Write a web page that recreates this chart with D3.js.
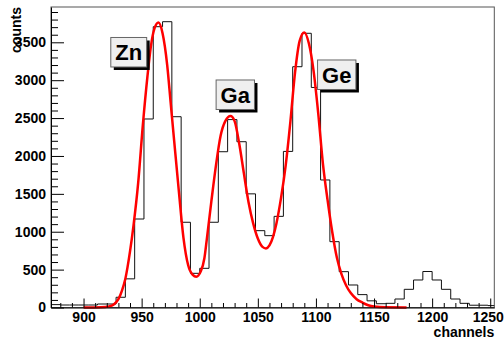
<!DOCTYPE html>
<html>
<head>
<meta charset="utf-8">
<script src="https://cdn.jsdelivr.net/npm/d3@7"></script>
<style>
  body { margin: 0; background: #fff; }
  svg text { font-family: "Liberation Sans", Arial, sans-serif; font-weight: bold; fill: #000; }
</style>
</head>
<body>
<div id="chart"></div>
<script>
// Histogram bins (lower edge, 8 channels wide) and counts
const binLow = [872, 880, 888, 896, 904, 912, 920, 928, 936, 944, 952, 960,
                968, 976, 984, 992, 1000, 1008, 1016, 1024, 1032, 1040, 1048, 1056,
                1064, 1072, 1080, 1088, 1096, 1104, 1112, 1120, 1128, 1136, 1144, 1152,
                1160, 1168, 1176, 1184, 1192, 1200, 1208, 1216, 1224, 1232, 1240, 1248];
const binCounts = [38, 33, 33, 33, 33, 46, 46, 135, 378, 1168, 2488, 3706,
                   3772, 2518, 1125, 451, 517, 1125, 2056, 2480, 2188, 1500, 1014, 948,
                   1203, 2060, 3178, 3619, 2904, 1683, 869, 473, 297, 170, 88, 50,
                   55, 112, 240, 363, 475, 363, 240, 112, 55, 30, 30, 25];
const binWidth = 8;

// Fit curve, sampled from the red line
const fitChannel = [900, 915, 922, 926, 930, 933, 936, 940, 943, 947, 951, 955, 958, 961, 964.5,
                    968, 972, 975, 978, 982, 986, 990, 994, 997, 1001, 1004, 1006, 1010, 1014,
                    1018, 1022, 1026.5, 1030, 1034, 1038, 1042, 1046, 1050, 1054, 1057, 1060,
                    1063, 1066, 1070, 1074, 1078, 1082, 1086, 1090, 1094, 1098, 1102, 1106,
                    1110, 1114, 1118, 1122, 1126, 1130, 1135, 1140, 1145, 1150, 1160, 1178];
const fitCounts = [0, 3, 15, 40, 110, 220, 380, 740, 1080, 1640, 2400, 3050, 3450, 3680, 3760,
                   3620, 3200, 2700, 2200, 1540, 920, 560, 430, 406, 480, 650, 890, 1400, 1880,
                   2270, 2460, 2527, 2460, 2160, 1770, 1390, 1110, 910, 800, 780, 820,
                   930, 1110, 1450, 1880, 2450, 3100, 3520, 3630, 3480, 3120, 2560, 1900,
                   1420, 1000, 660, 440, 290, 190, 110, 65, 30, 12, 2, 0];

// Peak labels
const peakNames = ["Zn", "Ga", "Ge"];
const peakLabelChannel = [938.9, 1030.6, 1117.9];
const peakLabelCounts = [3369, 2808, 3072];

// Axis ticks
const xTicks = [900, 950, 1000, 1050, 1100, 1150, 1200, 1250];
const yTicks = [0, 500, 1000, 1500, 2000, 2500, 3000, 3500];

const W = 504, H = 343;
const frame = {left: 51, right: 494.3, top: 7, bottom: 307.5};

const svg = d3.select("#chart").append("svg")
    .attr("width", W)
    .attr("height", H);

svg.append("rect").attr("width", W).attr("height", H).attr("fill", "#fff");

const x = d3.scaleLinear()
    .domain([872, 1253.5])
    .range([frame.left, frame.right]);

const y = d3.scaleLinear()
    .domain([0, 3966])
    .range([frame.bottom, frame.top]);

// clip to the frame
svg.append("clipPath").attr("id", "frameClip")
  .append("rect")
    .attr("x", frame.left)
    .attr("y", frame.top)
    .attr("width", frame.right - frame.left)
    .attr("height", frame.bottom - frame.top);

// frame
svg.append("rect")
    .attr("x", frame.left)
    .attr("y", frame.top)
    .attr("width", frame.right - frame.left)
    .attr("height", frame.bottom - frame.top)
    .attr("fill", "none")
    .attr("stroke", "#555")
    .attr("stroke-width", 1);

// histogram outline
const histPoints = binLow.map((b, i) => ({ch: b, c: binCounts[i]}));
histPoints.push({ch: binLow[binLow.length - 1] + binWidth, c: binCounts[binCounts.length - 1]});

svg.append("path")
    .datum(histPoints)
    .attr("clip-path", "url(#frameClip)")
    .attr("fill", "none")
    .attr("stroke", "#111")
    .attr("stroke-width", 1)
    .attr("d", d3.line()
      .x(d => x(d.ch))
      .y(d => y(d.c))
      .curve(d3.curveStepAfter));

// fit curve
const fitPoints = fitChannel.map((ch, i) => ({ch: ch, c: fitCounts[i]}));
svg.append("path")
    .datum(fitPoints)
    .attr("fill", "none")
    .attr("stroke", "#ff0000")
    .attr("stroke-width", 2.5)
    .attr("stroke-linejoin", "round")
    .attr("d", d3.line()
      .x(d => x(d.ch))
      .y(d => y(d.c))
      .curve(d3.curveMonotoneX));

// X axis: major + minor ticks pointing inward
const xMinor = d3.range(880, 1254, 10).filter(v => v % 50 !== 0);
svg.append("g")
    .attr("transform", "translate(0," + frame.bottom + ")")
    .call(d3.axisBottom(x).tickValues(xMinor).tickSize(-4.5).tickSizeOuter(0).tickFormat(""))
    .call(g => g.select(".domain").remove());

const xAxis = svg.append("g")
    .attr("transform", "translate(0," + frame.bottom + ")")
    .call(d3.axisBottom(x).tickValues(xTicks).tickSize(-9).tickSizeOuter(0)
      .tickPadding(5).tickFormat(d3.format("d")));
xAxis.select(".domain").attr("stroke", "#000");
xAxis.selectAll("text").style("font-size", "14px");
// last label would run off the edge, nudge it in
xAxis.selectAll("text").filter(d => d === 1250).attr("dx", "-2.5");

// Y axis
const yMinor = d3.range(100, 3966, 100).filter(v => v % 500 !== 0);
svg.append("g")
    .attr("transform", "translate(" + frame.left + ",0)")
    .call(d3.axisLeft(y).tickValues(yMinor).tickSize(-7).tickSizeOuter(0).tickFormat(""))
    .call(g => g.select(".domain").remove());

const yAxis = svg.append("g")
    .attr("transform", "translate(" + frame.left + ",0)")
    .call(d3.axisLeft(y).tickValues(yTicks).tickSize(-13).tickSizeOuter(0)
      .tickPadding(5).tickFormat(d3.format("d")));
yAxis.select(".domain").attr("stroke", "#000");
yAxis.selectAll("text").style("font-size", "14px");

// axis titles
svg.append("text")
    .attr("x", frame.right)
    .attr("y", 336.5)
    .attr("text-anchor", "end")
    .style("font-size", "14px")
    .text("channels");

svg.append("text")
    .attr("transform", "translate(21," + frame.top + ") rotate(-90)")
    .attr("text-anchor", "end")
    .style("font-size", "14px")
    .text("counts");

// peak labels with shadowed boxes
peakNames.forEach((name, i) => {
  const cx = x(peakLabelChannel[i]);
  const cy = y(peakLabelCounts[i]);
  const g = svg.append("g");
  const t = g.append("text")
      .attr("x", cx)
      .attr("y", cy)
      .attr("dy", "0.36em")
      .attr("text-anchor", "middle")
      .style("font-size", "22px")
      .text(name);
  const bw = t.node().getComputedTextLength() + 9;
  const bh = 29.5;
  g.insert("rect", "text")
      .attr("x", cx - bw / 2 + 3)
      .attr("y", cy - bh / 2 + 3)
      .attr("width", bw)
      .attr("height", bh)
      .attr("fill", "#000");
  g.insert("rect", "text")
      .attr("x", cx - bw / 2)
      .attr("y", cy - bh / 2)
      .attr("width", bw)
      .attr("height", bh)
      .attr("fill", "#efefef")
      .attr("stroke", "#666")
      .attr("stroke-width", 1);
});
</script>
</body>
</html>
